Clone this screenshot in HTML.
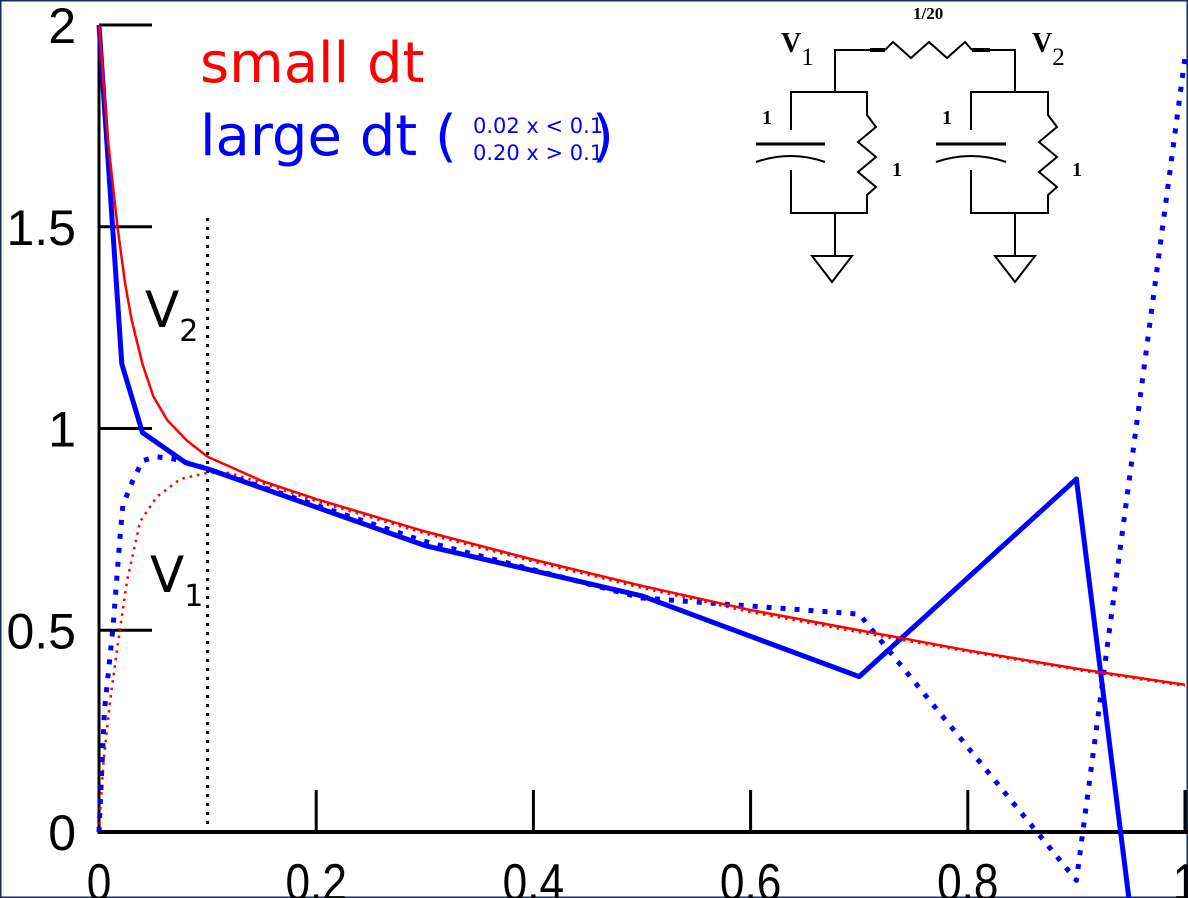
<!DOCTYPE html>
<html><head><meta charset="utf-8"><style>
html,body{margin:0;padding:0;background:#fff}
svg{display:block}
text{font-family:"DejaVu Sans","Liberation Sans",sans-serif}
</style></head><body>
<svg id="chart" width="1188" height="898" viewBox="0 0 1188 898" xmlns="http://www.w3.org/2000/svg">
<rect x="0" y="0" width="1188" height="898" fill="#fff" stroke="#1a2a5a" stroke-width="3"/>
<defs><clipPath id="clip"><rect x="0" y="0" width="1188" height="898"/></clipPath></defs>
<g id="axes"></g>
<g id="series" clip-path="url(#clip)"></g>
<text x="145" y="327" font-size="50">V<tspan font-size="30" dy="14">2</tspan></text>
<text x="150" y="592" font-size="50">V<tspan font-size="30" dy="14">1</tspan></text>
<text x="200" y="82" font-size="56" fill="#ff0000">small dt</text>
<text x="200" y="155" font-size="56" fill="#0000ff">large dt (</text>
<text x="473" y="133" font-size="21" fill="#0000ff">0.02 x &lt; 0.1</text>
<text x="473" y="160" font-size="21" fill="#0000ff">0.20 x &gt; 0.1</text>
<text x="592" y="155" font-size="56" fill="#0000ff">)</text>
<g stroke="#000" stroke-width="2" fill="none">
<polyline points="835,92 835,50 870,50"/><line x1="870" y1="50" x2="885" y2="50" stroke-width="4"/>
<polyline points="885,50 893,42 911,58 929,42 947,58 965,42 972,50"/>
<line x1="972" y1="50" x2="990" y2="50" stroke-width="4"/><polyline points="990,50 1015,50 1015,92"/>
<rect x="791" y="92" width="76" height="121"/>
<rect x="971" y="92" width="77" height="121"/>
<line x1="791" y1="130" x2="791" y2="170" stroke="#fff" stroke-width="4"/>
<line x1="971" y1="130" x2="971" y2="170" stroke="#fff" stroke-width="4"/>
<line x1="756" y1="144" x2="825" y2="144" stroke-width="3"/><path d="M756,162 Q791,150 825,162"/>
<line x1="936" y1="144" x2="1006" y2="144" stroke-width="3"/><path d="M936,162 Q971,150 1006,162"/>
<line x1="867" y1="105" x2="867" y2="200" stroke="#fff" stroke-width="4"/>
<polyline points="867,105 867,115 876,127 858,142 876,157 858,172 876,187 867,195 867,213"/>
<line x1="1048" y1="105" x2="1048" y2="200" stroke="#fff" stroke-width="4"/>
<polyline points="1048,105 1048,115 1057,127 1039,142 1057,157 1039,172 1057,187 1048,195 1048,213"/>
<polyline points="835,213 835,255"/><polygon points="812,256 852,256 832,282"/>
<polyline points="1015,213 1015,255"/><polygon points="995,256 1035,256 1015,282"/>
</g>
<g font-weight="bold">
<text x="913" y="19" font-size="17" style="font-family:'Liberation Serif',serif">1/20</text>
<text x="781" y="52" font-size="28" style="font-family:'Liberation Serif',serif">V<tspan font-weight="normal" font-size="25" dy="13">1</tspan></text>
<text x="1032" y="52" font-size="28" style="font-family:'Liberation Serif',serif">V<tspan font-weight="normal" font-size="25" dy="13">2</tspan></text>
<text x="762" y="124" font-size="20" style="font-family:'Liberation Serif',serif">1</text>
<text x="892" y="176" font-size="20" style="font-family:'Liberation Serif',serif">1</text>
<text x="942" y="124" font-size="20" style="font-family:'Liberation Serif',serif">1</text>
<text x="1072" y="176" font-size="20" style="font-family:'Liberation Serif',serif">1</text>
</g>
</svg>
<script>
const xTicks=[0,0.2,0.4,0.6,0.8,1];
const xTickLabels=["0","0.2","0.4","0.6","0.8","1"];
const yTicks=[0,0.5,1,1.5,2];
const yTickLabels=["0","0.5","1","1.5","2"];
const smallV2X=[0,0.008,0.017,0.024,0.03,0.04,0.05,0.063,0.081,0.1,0.15,0.2,0.3,0.4,0.5,0.6,0.7,0.8,0.9,1.0];
const smallV2Y=[2,1.72,1.5,1.36,1.27,1.16,1.08,1.02,0.97,0.93,0.87,0.825,0.745,0.675,0.61,0.55,0.5,0.45,0.405,0.365];
const smallV1X=[0,0.004,0.01,0.017,0.026,0.038,0.053,0.075,0.1,0.12,0.15,0.2,0.3,0.4,0.5,0.6,0.7,0.8,0.9,1.0];
const smallV1Y=[0,0.17,0.32,0.46,0.625,0.77,0.83,0.875,0.89,0.89,0.865,0.82,0.74,0.67,0.605,0.545,0.495,0.447,0.402,0.362];
const largeV2X=[0,0.021,0.04,0.08,0.1,0.3,0.5,0.7,0.9,0.95];
const largeV2Y=[2,1.16,0.99,0.915,0.9,0.71,0.585,0.385,0.875,-0.2];
const largeV1X=[0,0.005,0.013,0.019,0.022,0.031,0.04,0.053,0.068,0.1,0.3,0.5,0.7,0.9,1.0];
const largeV1Y=[0,0.3,0.51,0.72,0.81,0.87,0.92,0.93,0.925,0.9,0.72,0.58,0.54,-0.12,1.92];
const X0=99,XS=1086,Y0=832,YS=403.5;
const sx=v=>X0+v*XS, sy=v=>Y0-v*YS;
const NS="http://www.w3.org/2000/svg";
const axes=document.getElementById('axes'), series=document.getElementById('series');
function mk(tag,attrs,parent){const e=document.createElementNS(NS,tag);for(const k in attrs)e.setAttribute(k,attrs[k]);parent.appendChild(e);return e;}
let e;
e=mk('line',{x1:X0,y1:sy(2),x2:X0,y2:Y0+2,stroke:'#000','stroke-width':3},axes);


e=mk('line',{x1:X0-1,y1:Y0,x2:1188,y2:Y0,stroke:'#000','stroke-width':4},axes);


xTicks.forEach((v,i)=>{
  if(i>0){e=mk('line',{x1:sx(v),y1:Y0-42,x2:sx(v),y2:Y0,stroke:'#000','stroke-width':3},axes);
  
  }
  e=mk('text',{x:sx(v),y:Y0+68,'font-size':52,'text-anchor':'middle',style:"font-family:'Liberation Sans',sans-serif",transform:`translate(${sx(v)},0) scale(0.85,1) translate(${-sx(v)},0)`},axes);
  e.textContent=xTickLabels[i];
  
  
});
yTicks.forEach((v,i)=>{
  if(i>0){e=mk('line',{x1:X0,y1:sy(v),x2:X0+53,y2:sy(v),stroke:'#000','stroke-width':3},axes);
  
  }
  e=mk('text',{x:76,y:sy(v)+18,'font-size':50,'text-anchor':'end',style:"font-family:'Liberation Sans',sans-serif"},axes);
  e.textContent=yTickLabels[i];
  
  
});
e=mk('line',{x1:sx(0.1),y1:218,x2:sx(0.1),y2:Y0,stroke:'#000','stroke-width':3,'stroke-dasharray':'3 6'},axes);


function line(xs,ys,color,w,dash){
  const pts=xs.map((x,i)=>sx(x)+','+sy(ys[i])).join(' ');
  const a={points:pts,fill:'none',stroke:color,'stroke-width':w,'stroke-linejoin':'round'};
  if(dash)a['stroke-dasharray']=dash;
  return mk('polyline',a,series);
}
e=line(smallV1X,smallV1Y,'#ff0000',2.5,'2.5 5');


e=line(largeV1X,largeV1Y,'#0000ff',5,'5 9');


e=line(largeV2X,largeV2Y,'#0000ff',5,null);


e=line(smallV2X,smallV2Y,'#ff0000',2.5,null);


</script>
</body></html>
